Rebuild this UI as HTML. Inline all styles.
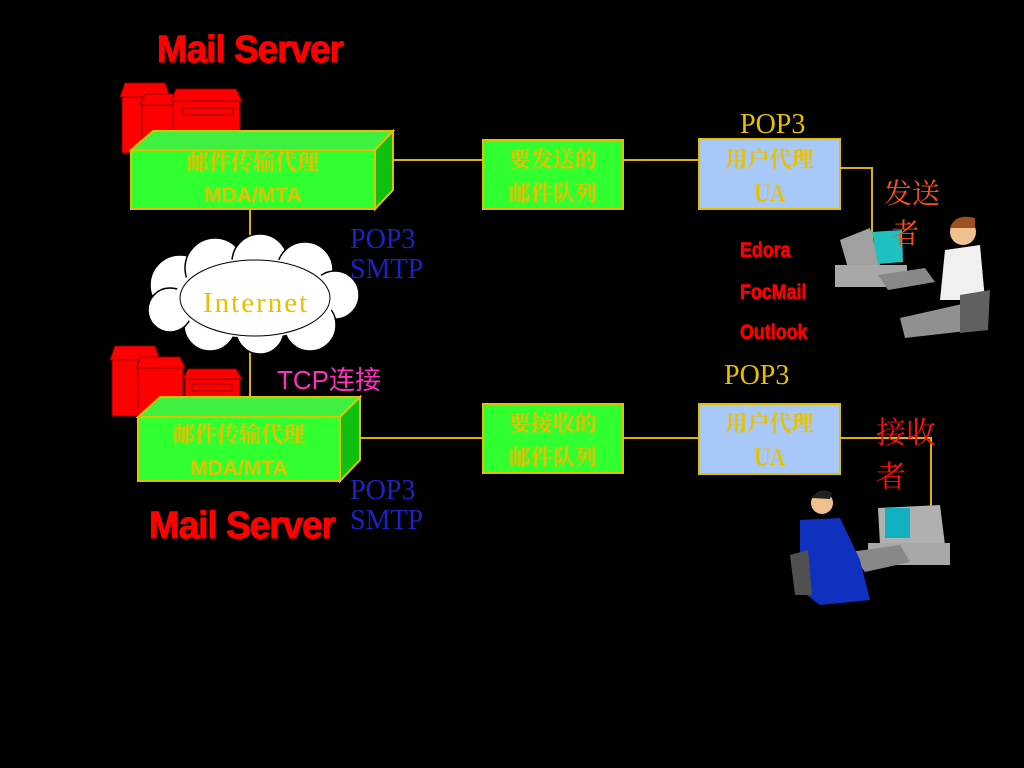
<!DOCTYPE html><html><head><meta charset="utf-8"><style>
body{margin:0;background:#000;width:1024px;height:768px;overflow:hidden;position:relative;font-family:"Liberation Serif","Noto Serif CJK SC",serif}
.t{position:absolute;white-space:nowrap;line-height:1}
.ms{font-family:"Liberation Sans",sans-serif;font-weight:bold;color:#f00;font-size:38px;transform:scaleX(.97);transform-origin:left top;letter-spacing:-1px;-webkit-text-stroke:1px #f00}
.cj{font-family:"Noto Serif CJK SC",serif;font-weight:bold;color:#e8c000;font-size:22px;text-align:center;line-height:34px}
.bl{color:#2020c8;font-size:28px;line-height:30px}
.ed{font-family:"Liberation Sans",sans-serif;font-weight:bold;color:#f00;font-size:21px;transform:scaleX(.85);transform-origin:left top;-webkit-text-stroke:.6px #f00}
</style></head><body>
<svg width="1024" height="768" style="position:absolute;left:0;top:0">
<g stroke="#e0b000" stroke-width="2" fill="none">
<line x1="393" y1="160" x2="483" y2="160"/><line x1="623" y1="160" x2="699" y2="160"/>
<polyline points="840,168 872,168 872,240"/>
<line x1="250" y1="209" x2="250" y2="400"/>
<line x1="360" y1="438" x2="483" y2="438"/><line x1="623" y1="438" x2="699" y2="438"/>
<polyline points="840,438 931,438 931,510"/>
</g>
<g fill="#f00" stroke="#800" stroke-width="1">
<rect x="122" y="95" width="45" height="58"/><polygon points="120,97 125,83 165,83 170,97"/>
<rect x="142" y="104" width="40" height="50"/><polygon points="140,105 145,94 180,94 184,105"/>
<rect x="173" y="100" width="67" height="52"/><polygon points="171,101 176,89 236,89 242,101"/>
<rect x="183" y="108" width="50" height="7" fill="none"/>
<rect x="112" y="358" width="45" height="58"/><polygon points="110,360 115,346 155,346 160,360"/>
<rect x="138" y="366" width="45" height="50"/><polygon points="136,368 141,357 180,357 185,368"/>
<rect x="185" y="378" width="55" height="40"/><polygon points="183,379 188,369 236,369 242,379"/>
<rect x="192" y="384" width="40" height="7" fill="none"/>
</g>
<g stroke="#e0c000" stroke-width="2">
<polygon points="131,150 153,131 393,131 375,150" fill="#40f040"/>
<polygon points="375,150 393,131 393,190 375,209" fill="#10c010"/>
<rect x="131" y="150" width="244" height="59" fill="#30ff30"/>
<polygon points="138,417 160,397 360,397 340,417" fill="#40f040"/>
<polygon points="340,417 360,397 360,460 340,481" fill="#10c010"/>
<rect x="138" y="417" width="202" height="64" fill="#30ff30"/>
<rect x="483" y="140" width="140" height="69" fill="#30ff30"/>
<rect x="483" y="404" width="140" height="69" fill="#30ff30"/>
<rect x="699" y="139" width="141" height="70" fill="#a8c8f8"/>
<rect x="699" y="404" width="141" height="70" fill="#a8c8f8"/>
</g>
<g fill="#fff" stroke="#000" stroke-width="1.5">
<circle cx="180" cy="285" r="30"/><circle cx="215" cy="268" r="30"/><circle cx="260" cy="262" r="28"/><circle cx="305" cy="270" r="28"/><circle cx="335" cy="295" r="24"/><circle cx="310" cy="325" r="26"/><circle cx="260" cy="330" r="24"/><circle cx="210" cy="325" r="26"/><circle cx="170" cy="310" r="22"/>
<ellipse cx="255" cy="298" rx="80" ry="40" stroke="none"/>
</g>
<ellipse cx="255" cy="298" rx="75" ry="38" fill="none" stroke="#000"/>
<g>
<polygon points="840,240 870,228 880,265 848,268" fill="#a0a0a0"/>
<polygon points="872,232 902,230 903,262 878,264" fill="#20c0c0"/>
<rect x="835" y="265" width="72" height="22" fill="#a8a8a8"/>
<polygon points="878,275 925,268 935,282 888,290" fill="#888"/>
<circle cx="963" cy="232" r="13" fill="#f0c090"/><path d="M950,228 q5,-15 25,-10 l0,10 z" fill="#a05020"/>
<polygon points="945,250 980,245 985,300 940,300" fill="#f0f0f0"/>
<polygon points="900,318 980,300 975,330 905,338" fill="#909090"/>
<polygon points="960,295 990,290 988,330 960,333" fill="#606060"/>
</g>
<g>
<polygon points="878,508 940,505 945,545 880,545" fill="#b0b0b0"/>
<rect x="885" y="508" width="25" height="30" fill="#10b0c0"/>
<rect x="868" y="543" width="82" height="22" fill="#a8a8a8"/>
<polygon points="850,552 900,545 910,562 865,572" fill="#888"/>
<circle cx="822" cy="503" r="11" fill="#f0c090"/><path d="M812,498 q8,-12 20,-5 l-2,6 z" fill="#202020"/>
<polygon points="800,520 840,518 860,560 870,600 820,605 800,590" fill="#1030c0"/>
<polygon points="790,555 808,550 812,595 795,595" fill="#505050"/>
</g>
</svg>
<div class="t ms" style="left:157px;top:31px">Mail Server</div>
<div class="t ms" style="left:149px;top:507px">Mail Server</div>
<div class="t cj" style="left:131px;top:146px;width:244px;line-height:32px">邮件传输代理<br><span style="font-family:'Liberation Sans';font-weight:bold;font-size:21px">MDA/MTA</span></div>
<div class="t cj" style="left:138px;top:417px;width:202px;line-height:33px">邮件传输代理<br><span style="font-family:'Liberation Sans';font-weight:bold;font-size:21px">MDA/MTA</span></div>
<div class="t cj" style="left:483px;top:142px;width:140px">要发送的<br>邮件队列</div>
<div class="t cj" style="left:483px;top:406px;width:140px">要接收的<br>邮件队列</div>
<div class="t cj" style="left:699px;top:142px;width:141px">用户代理<br>UA</div>
<div class="t cj" style="left:699px;top:406px;width:141px">用户代理<br>UA</div>
<div class="t" style="left:740px;top:111px;color:#e8c000;font-size:28px">POP3</div>
<div class="t" style="left:724px;top:362px;color:#e8c000;font-size:28px">POP3</div>
<div class="t" style="left:203px;top:289px;color:#e8c000;font-size:29px;letter-spacing:2px">Internet</div>
<div class="t bl" style="left:350px;top:225px">POP3<br>SMTP</div>
<div class="t bl" style="left:350px;top:476px">POP3<br>SMTP</div>
<div class="t" style="left:277px;top:367px;color:#ff30c0;font-size:26px;font-family:'Liberation Sans','Noto Sans CJK SC',sans-serif">TCP连接</div>
<div class="t" style="left:884px;top:172px;color:#ff5020;font-size:28px;font-family:'Noto Serif CJK SC',serif;line-height:40px">发送<br>&nbsp;者</div>
<div class="t" style="left:876px;top:408px;color:#ff1010;font-size:30px;font-family:'Noto Serif CJK SC',serif;line-height:44px">接收<br>者</div>
<div class="t ed" style="left:740px;top:240px">Edora</div>
<div class="t ed" style="left:740px;top:282px">FocMail</div>
<div class="t ed" style="left:740px;top:322px">Outlook</div>
</body></html>
